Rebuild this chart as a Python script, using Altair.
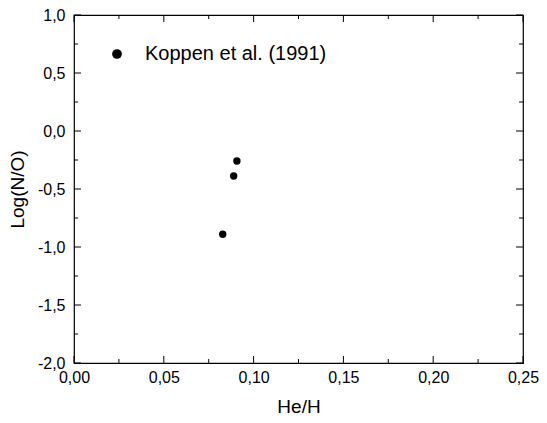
import altair as alt
import pandas as pd

# data
he_h = [0.0907, 0.0889, 0.0828]
log_no = [-0.259, -0.388, -0.890]
series = ["Koppen et al. (1991)"] * 3

x_major = [0.0, 0.05, 0.10, 0.15, 0.20, 0.25]
x_minor = [0.025, 0.075, 0.125, 0.175, 0.225]
y_major = [-2.0, -1.5, -1.0, -0.5, 0.0, 0.5, 1.0]
y_minor = [-1.75, -1.25, -0.75, -0.25, 0.25, 0.75]

df = pd.DataFrame({"He/H": he_h, "Log(N/O)": log_no, "src": series})

FONT = "Liberation Sans"
xs = alt.Scale(domain=[0, 0.25], nice=False, zero=False)
ys = alt.Scale(domain=[-2.0, 1.0], nice=False, zero=False)

xaxis = alt.Axis(
    values=x_major, ticks=False, grid=False, domain=False, labelFlush=False,
    labelExpr="replace(format(datum.value, '.2f'), '.', ',')",
    labelFontSize=16, labelFont=FONT, labelColor="black", labelPadding=6,
    title="He/H", titleFontSize=19, titleFont=FONT, titleFontWeight="normal",
    titleColor="black", titlePadding=12,
)
yaxis = alt.Axis(
    values=y_major, ticks=False, grid=False, domain=False, labelFlush=False,
    labelExpr="replace(replace(format(datum.value, '.1f'), '.', ','), '\u2212', '-')",
    labelFontSize=16, labelFont=FONT, labelColor="black", labelPadding=9,
    title="Log(N/O)", titleFontSize=19, titleFont=FONT, titleFontWeight="normal",
    titleColor="black", titlePadding=10,
)

points = alt.Chart(df).mark_point(filled=True, shape="circle", size=55, opacity=1).encode(
    x=alt.X("He/H:Q", scale=xs, axis=xaxis),
    y=alt.Y("Log(N/O):Q", scale=ys, axis=yaxis),
    color=alt.Color("src:N", scale=alt.Scale(range=["black"]),
                    legend=alt.Legend(title=None, orient="none", legendX=33, legendY=29,
                                      symbolSize=95, symbolType="circle",
                                      symbolFillColor="black", symbolStrokeWidth=0,
                                      labelFontSize=20, labelFont=FONT, labelColor="black",
                                      labelLimit=500, labelOffset=18, padding=0)),
)


def xticks(vals, length, at, off):
    d = pd.DataFrame({"v": vals})
    return alt.Chart(d).mark_tick(orient="vertical", size=length, thickness=1,
                                  color="black", opacity=1, yOffset=off).encode(
        x=alt.X("v:Q", scale=xs, axis=xaxis), y=alt.datum(at, scale=ys, axis=yaxis))


def yticks(vals, length, at, off):
    d = pd.DataFrame({"v": vals})
    return alt.Chart(d).mark_tick(orient="horizontal", size=length, thickness=1,
                                  color="black", opacity=1, xOffset=off).encode(
        y=alt.Y("v:Q", scale=ys, axis=yaxis), x=alt.datum(at, scale=xs, axis=xaxis))


MAJ, MIN = 7, 4
tick_layers = [
    xticks(x_major, MAJ, -2.0, -MAJ / 2), xticks(x_minor, MIN, -2.0, -MIN / 2),
    xticks(x_major, MAJ, 1.0, MAJ / 2), xticks(x_minor, MIN, 1.0, MIN / 2),
    yticks(y_major, MAJ, 0.0, MAJ / 2), yticks(y_minor, MIN, 0.0, MIN / 2),
    yticks(y_major, MAJ, 0.25, -MAJ / 2), yticks(y_minor, MIN, 0.25, -MIN / 2),
]

chart = alt.layer(points, *tick_layers).properties(
    width=449, height=348,
    autosize=alt.AutoSizeParams(type="none"),
    padding={"left": 66, "top": 7, "right": 16, "bottom": 52},
    background="white",
).configure_view(stroke="black", strokeWidth=1.2).configure_axis(
    labelFontSize=16, labelFont=FONT, labelColor="black", labelFlush=False)

chart.save("out.html", embed_options={"renderer": "svg", "actions": False})
